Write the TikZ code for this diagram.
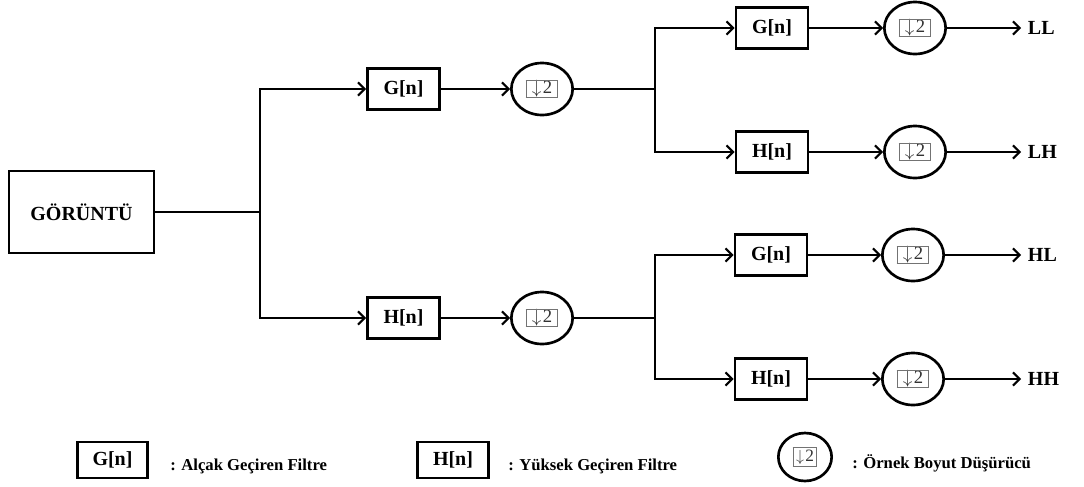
\documentclass[tikz,border=0pt]{standalone}
\usepackage{fontspec}
\setmainfont{Liberation Serif}
\usetikzlibrary{arrows.meta,shapes.geometric}

% framed "down by 2" symbol: #1 width, #2 height, #3 font size
\newcommand\dsym[3]{{\fboxsep=0pt\fboxrule=0.8pt\color{black!55}%
  \fbox{\parbox[c][#2][c]{#1}{\centering\color{black!80}\mdseries
  \fontsize{#3}{#3}\selectfont$\downarrow$\kern1pt 2}}}}

\begin{document}
\begin{tikzpicture}[x=0.75pt,y=-0.75pt,
  every node/.style={font=\bfseries\fontsize{15}{18}\selectfont},
  filt/.style={draw,line width=2.2pt,minimum width=54pt,minimum height=30.5pt,inner sep=0pt},
  src/.style={draw,line width=2.2pt,minimum width=108.75pt,minimum height=61.5pt,inner sep=0pt},
  down/.style={draw,ellipse,line width=2pt,minimum width=46pt,minimum height=39pt,inner sep=0pt},
  conn/.style={line width=1.5pt},
  arr/.style={conn,-{Straight Barb[length=5pt,width=10pt,line width=1.5pt]}},
  outlab/.style={anchor=west,inner xsep=5pt,inner ysep=0pt},
  legtext/.style={anchor=west,inner sep=0pt,font=\bfseries\fontsize{12.5}{15}\selectfont}
]
\useasboundingbox (0,0) rectangle (1084,486);

% source image
\node[src] (img) at (81.5,212) {GÖRÜNTÜ};

% first level
\node[filt] (G1) at (403.5,89) {G[n]};
\node[filt] (H1) at (403.5,318) {H[n]};
\node[down] (D1) at (542,89) {\dsym{23pt}{12.5pt}{14}};
\node[down] (D2) at (542,318) {\dsym{23pt}{12.5pt}{14}};

% second level, upper branch
\node[filt] (G2) at (772,28) {G[n]};
\node[filt] (H2) at (772,152) {H[n]};
\node[down] (D3) at (915,28) {\dsym{23pt}{12.5pt}{14}};
\node[down] (D4) at (915,152) {\dsym{23pt}{12.5pt}{14}};
\node[outlab] (LL) at (1021,28) {LL};
\node[outlab] (LH) at (1021,152) {LH};

% second level, lower branch
\node[filt] (G3) at (771,255) {G[n]};
\node[filt] (H3) at (771,379) {H[n]};
\node[down] (D5) at (913,255) {\dsym{23pt}{12.5pt}{14}};
\node[down] (D6) at (913,379) {\dsym{23pt}{12.5pt}{14}};
\node[outlab] (HL) at (1021,255) {HL};
\node[outlab] (HH) at (1021,379) {HH};

% branch points
\coordinate (j1) at (260,212);
\coordinate (j2) at (655,89);
\coordinate (j3) at (655,318);

% connectors
\draw[conn] (img.east) -- (j1);
\draw[arr] (j1) |- (G1.west);
\draw[arr] (j1) |- (H1.west);
\draw[arr] (G1.east) -- (D1.west);
\draw[arr] (H1.east) -- (D2.west);

\draw[conn] (D1.east) -- (j2);
\draw[arr] (j2) |- (G2.west);
\draw[arr] (j2) |- (H2.west);
\draw[arr] (G2.east) -- (D3.west);
\draw[arr] (H2.east) -- (D4.west);
\draw[arr] (D3.east) -- (LL.west);
\draw[arr] (D4.east) -- (LH.west);

\draw[conn] (D2.east) -- (j3);
\draw[arr] (j3) |- (G3.west);
\draw[arr] (j3) |- (H3.west);
\draw[arr] (G3.east) -- (D5.west);
\draw[arr] (H3.east) -- (D6.west);
\draw[arr] (D5.east) -- (HL.west);
\draw[arr] (D6.east) -- (HH.west);

% legend
\node[filt,minimum width=53pt,minimum height=27pt] (lg) at (112.5,460) {G[n]};
\node[legtext] (lgt) at (170,466) {: Alçak Geçiren Filtre};
\node[filt,minimum width=53pt,minimum height=27pt] (lh) at (453,460) {H[n]};
\node[legtext] (lht) at (508,466) {: Yüksek Geçiren Filtre};
\node[down,minimum width=40pt,minimum height=36pt] (ld) at (805,457) {\dsym{17pt}{14pt}{13}};
\node[legtext] (ldt) at (852,463) {: Örnek Boyut Düşürücü};
\end{tikzpicture}
\end{document}
